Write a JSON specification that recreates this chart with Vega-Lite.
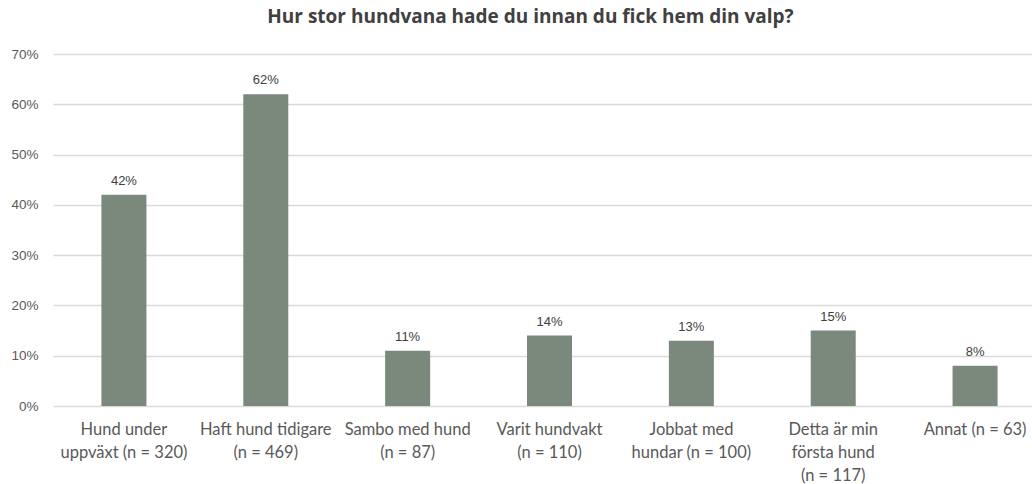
{
  "$schema": "https://vega.github.io/schema/vega-lite/v6.json",
  "width": 979,
  "height": 352,
  "padding": {"left": 53, "top": 54, "right": 0, "bottom": 78},
  "autosize": {"type": "none"},
  "background": "#ffffff",
  "title": {
    "text": "Hur stor hundvana hade du innan du fick hem din valp?",
    "font": "Open Sans",
    "fontSize": 19,
    "fontWeight": "bold",
    "color": "#404040",
    "anchor": "middle",
    "dx": -12,
    "offset": 20
  },
  "data": {
    "values": [
      {"kategori": "Hund under|uppväxt (n = 320)", "andel": 0.42},
      {"kategori": "Haft hund tidigare|(n = 469)", "andel": 0.62},
      {"kategori": "Sambo med hund|(n = 87)", "andel": 0.11},
      {"kategori": "Varit hundvakt|(n = 110)", "andel": 0.14},
      {"kategori": "Jobbat med|hundar (n = 100)", "andel": 0.13},
      {"kategori": "Detta är min|första hund|(n = 117)", "andel": 0.15},
      {"kategori": "Annat (n = 63)", "andel": 0.08}
    ]
  },
  "encoding": {
    "x": {
      "field": "kategori",
      "type": "nominal",
      "sort": null,
      "scale": {"range": [0, 993], "paddingInner": 0, "paddingOuter": 0},
      "axis": {
        "title": null,
        "labelAngle": 0,
        "labelExpr": "split(datum.label, '|')",
        "labelFont": "Lato",
        "labelFontSize": 16.5,
        "labelColor": "#595959",
        "labelLineHeight": 23,
        "labelPadding": 15,
        "labelLimit": 200,
        "ticks": false,
        "domain": false,
        "grid": false
      }
    },
    "y": {
      "field": "andel",
      "type": "quantitative",
      "scale": {"domain": [0, 0.7], "nice": false},
      "axis": {
        "title": null,
        "format": ".0%",
        "values": [0, 0.1, 0.2, 0.3, 0.4, 0.5, 0.6, 0.7],
        "labelFont": "Liberation Sans",
        "labelFontSize": 13.5,
        "labelColor": "#595959",
        "labelPadding": 15,
        "ticks": false,
        "domain": false,
        "gridColor": "#d9d9d9",
        "gridWidth": 1.3
      }
    }
  },
  "layer": [
    {
      "mark": {"type": "bar", "width": 45, "color": "#7b887c"}
    },
    {
      "mark": {
        "type": "text",
        "dy": -14,
        "font": "Liberation Sans",
        "fontSize": 13,
        "color": "#404040"
      },
      "encoding": {
        "text": {"field": "andel", "type": "quantitative", "format": ".0%"}
      }
    }
  ],
  "config": {"view": {"stroke": null}}
}
